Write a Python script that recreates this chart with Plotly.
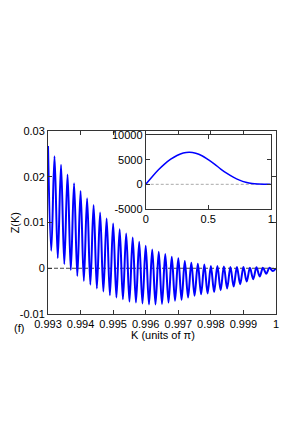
import plotly.graph_objects as go

# ---- main panel: extrema of Z(K) ----
peak_K = [0.9930, 0.9932, 0.9934, 0.9936, 0.9938, 0.9940, 0.9942, 0.9944, 0.9946,
          0.9948, 0.9950, 0.9952, 0.9954, 0.9956, 0.9958, 0.9960, 0.9962, 0.9964,
          0.9966, 0.9968, 0.9970, 0.9972, 0.9974, 0.9976, 0.9978, 0.9980, 0.9982,
          0.9984, 0.9986, 0.9988, 0.9990, 0.9992, 0.9994, 0.9996, 0.9998, 1.0000]
peak_Z = [0.0267, 0.0245, 0.0226, 0.0205, 0.0186, 0.0169, 0.0153, 0.0138, 0.0122,
          0.0109, 0.0098, 0.0085, 0.0076, 0.0067, 0.0058, 0.0049, 0.0041, 0.0036,
          0.0031, 0.0025, 0.0022, 0.0016, 0.0012, 0.0010, 0.0008, 0.0005, 0.0005,
          0.0004, 0.0003, 0.0003, 0.0003, 0.0001, 0.0002, 0.0001, 0.0001, 0.0000]
trough_K = [0.9931, 0.9933, 0.9935, 0.9937, 0.9939, 0.9941, 0.9943, 0.9945, 0.9947,
            0.9949, 0.9951, 0.9953, 0.9955, 0.9957, 0.9959, 0.9961, 0.9963, 0.9965,
            0.9967, 0.9969, 0.9971, 0.9973, 0.9975, 0.9977, 0.9979, 0.9981, 0.9983,
            0.9985, 0.9987, 0.9989, 0.9991, 0.9993, 0.9995, 0.9997, 0.9999]
trough_Z = [0.0038, 0.0022, 0.0009, -0.0004, -0.0017, -0.0028, -0.0036, -0.0044, -0.0051,
            -0.0059, -0.0064, -0.0068, -0.0073, -0.0075, -0.0077, -0.0079, -0.0079, -0.0078,
            -0.0075, -0.0071, -0.0069, -0.0064, -0.0060, -0.0057, -0.0055, -0.0052, -0.0048,
            -0.0044, -0.0040, -0.0035, -0.0029, -0.0024, -0.0018, -0.0012, -0.0006]

main_xticks = [0.993, 0.994, 0.995, 0.996, 0.997, 0.998, 0.999, 1.0]
main_xticklabels = ["0.993", "0.994", "0.995", "0.996", "0.997", "0.998", "0.999", "1"]
main_yticks = [-0.01, 0, 0.01, 0.02, 0.03]
main_yticklabels = ["-0.01", "0", "0.01", "0.02", "0.03"]

# ---- inset ----
inset_K = [0, 0.05, 0.1, 0.15, 0.2, 0.25, 0.3, 0.35, 0.4, 0.45, 0.5,
           0.55, 0.6, 0.65, 0.7, 0.75, 0.8, 0.85, 0.9, 0.95, 1.0]
inset_Z = [0, 1500, 2900, 4100, 5100, 5850, 6350, 6500, 6300, 5800, 5000,
           4100, 3100, 2200, 1450, 850, 420, 150, 40, 5, 0]
inset_xticks = [0, 0.5, 1]
inset_xticklabels = ["0", "0.5", "1"]
inset_yticks = [-5000, 0, 5000, 10000]
inset_yticklabels = ["-5000", "0", "5000", "10000"]

# interleave extrema
pts = sorted(list(zip(peak_K, peak_Z)) + list(zip(trough_K, trough_Z)))
K_all = [p[0] for p in pts]
Z_all = [p[1] for p in pts]

FONT = "Liberation Sans, Arial, sans-serif"
AX = "#333333"

fig = go.Figure()
fig.add_trace(go.Scatter(x=[0.993, 1.0], y=[0, 0], mode="lines",
                         line=dict(color="#444444", width=1, dash="4px,2px"),
                         xaxis="x", yaxis="y", hoverinfo="skip", showlegend=False))
fig.add_trace(go.Scatter(x=K_all, y=Z_all, mode="lines",
                         line=dict(color="#0000ff", width=2, shape="spline", smoothing=1.0),
                         xaxis="x", yaxis="y", showlegend=False))
fig.add_trace(go.Scatter(x=[0, 1], y=[0, 0], mode="lines",
                         line=dict(color="#aaaaaa", width=1, dash="3px,2px"),
                         xaxis="x2", yaxis="y2", hoverinfo="skip", showlegend=False))
fig.add_trace(go.Scatter(x=inset_K, y=inset_Z, mode="lines",
                         line=dict(color="#0000ff", width=1.5, shape="spline"),
                         xaxis="x2", yaxis="y2", showlegend=False))

common = dict(showline=True, linecolor=AX, linewidth=1, mirror="allticks",
              ticks="inside", ticklen=4, tickcolor=AX, showgrid=False, zeroline=False,
              tickfont=dict(family=FONT, size=11, color="#000"))

# page body adds an 8px offset, so the figure is drawn 8px smaller and shifted
fig.update_layout(
    width=292, height=421,
    margin=dict(l=34, r=24, t=123, b=115),
    paper_bgcolor="white", plot_bgcolor="white",
    font=dict(family=FONT, size=11, color="#000"),
    xaxis=dict(domain=[0, 1], range=[0.993, 1.0], tickvals=main_xticks,
               ticktext=main_xticklabels, **common),
    yaxis=dict(domain=[0, 1], range=[-0.01, 0.03], tickvals=main_yticks,
               ticktext=main_yticklabels, **common),
    xaxis2=dict(domain=[0.4286, 0.977], range=[0, 1], anchor="y2", tickvals=inset_xticks,
                ticktext=inset_xticklabels, **common),
    yaxis2=dict(domain=[0.574, 0.978], range=[-5000, 10000], anchor="x2",
                tickvals=inset_yticks, ticktext=inset_yticklabels, **common),
    annotations=[
        dict(text="Z(K)", xref="paper", yref="paper", x=(8 - 42) / 234, y=0.5,
             textangle=-90, showarrow=False, xanchor="center", yanchor="middle",
             font=dict(family=FONT, size=11)),
        dict(text="K (units of π)", xref="paper", yref="paper", x=(160 - 42) / 234,
             y=(314 - 335) / 183, showarrow=False, xanchor="center", yanchor="middle",
             font=dict(family=FONT, size=11)),
        dict(text="(f)", xref="paper", yref="paper", x=(12 - 42) / 234,
             y=(314 - 328) / 183, showarrow=False, xanchor="center", yanchor="middle",
             font=dict(family=FONT, size=11)),
    ],
)

fig.write_html("out.html")
